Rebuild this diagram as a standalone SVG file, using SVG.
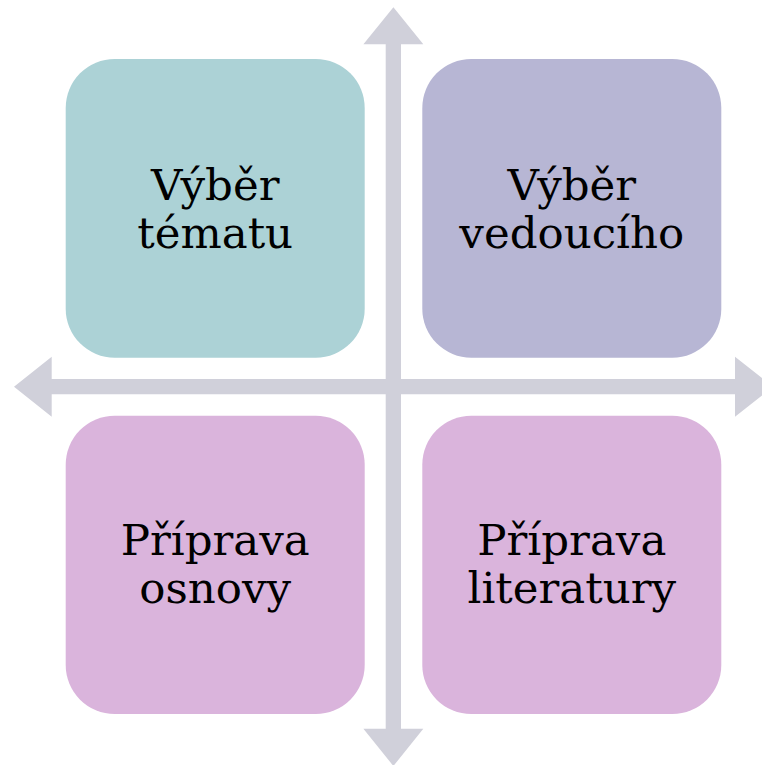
<svg xmlns="http://www.w3.org/2000/svg" width="762" height="765" viewBox="0 0 762 765">
<style>
.arrow{fill:#D0D0DA;}
.box{stroke:none;}
.lbl{font-family:"DejaVu Serif","Liberation Serif",serif;font-size:43.5px;fill:#000;text-anchor:middle;}
</style>
<rect width="762" height="765" fill="#FFFFFF"/>
<g id="connectors">
<polygon class="arrow" points="14,386.7 51.7,356.7 51.7,379.1 735,379.1 735,356.7 773,386.7 735,416.7 735,394.3 51.7,394.3 51.7,416.7"/>
<polygon class="arrow" points="393.4,7.3 423.3,44.3 401,44.3 401,728.8 423.3,728.8 393.4,766 363.4,728.8 385.7,728.8 385.7,44.3 363.4,44.3"/>
</g>
<g id="node-vyber-tematu">
<rect class="box" x="65.7" y="59" width="299" height="298.7" rx="49" ry="49" fill="#ACD2D6"/>
<text class="lbl" x="215.2" y="200">Výběr</text>
<text class="lbl" x="215.2" y="248">tématu</text>
</g>
<g id="node-vyber-vedouciho">
<rect class="box" x="422.3" y="59" width="299" height="298.7" rx="49" ry="49" fill="#B7B6D4"/>
<text class="lbl" x="571.8" y="200">Výběr</text>
<text class="lbl" x="571.8" y="248">vedoucího</text>
</g>
<g id="node-priprava-osnovy">
<rect class="box" x="65.7" y="415.7" width="299" height="298.3" rx="49" ry="49" fill="#DAB4DC"/>
<text class="lbl" x="215.2" y="555">Příprava</text>
<text class="lbl" x="215.2" y="603">osnovy</text>
</g>
<g id="node-priprava-literatury">
<rect class="box" x="422.3" y="415.7" width="299" height="298.3" rx="49" ry="49" fill="#DAB4DC"/>
<text class="lbl" x="571.8" y="555">Příprava</text>
<text class="lbl" x="571.8" y="603">literatury</text>
</g>
</svg>
